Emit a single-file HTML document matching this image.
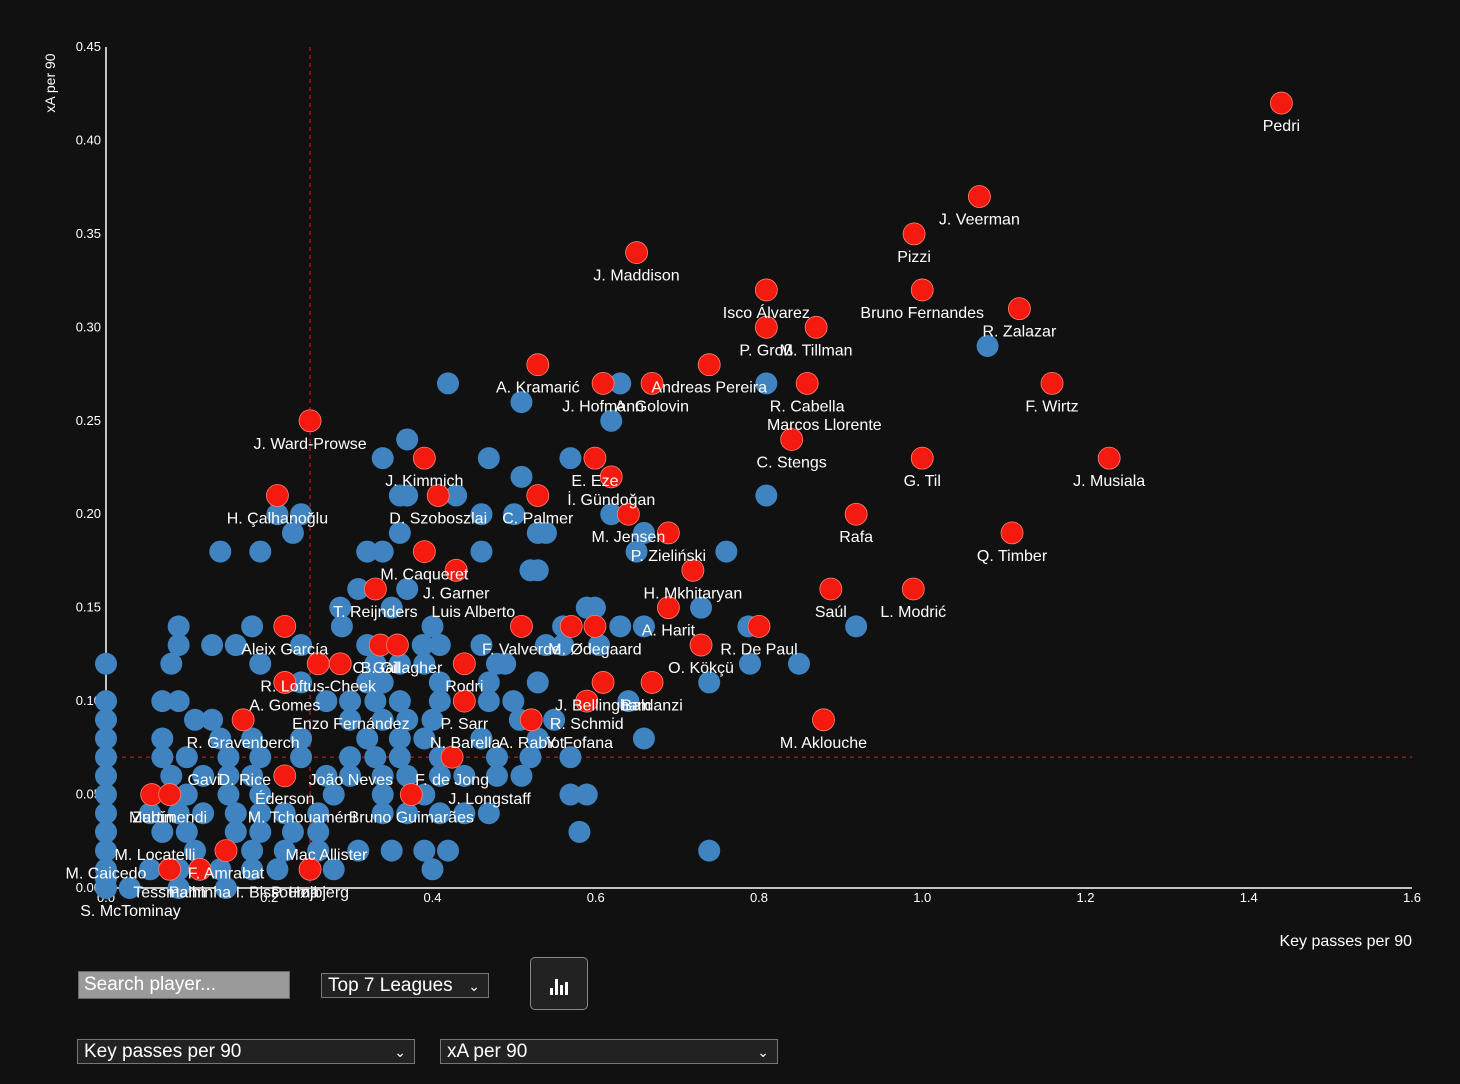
<!DOCTYPE html>
<html><head><meta charset="utf-8">
<style>
html,body{margin:0;padding:0;background:#111;width:1460px;height:1084px;overflow:hidden;font-family:"Liberation Sans",sans-serif;}
svg{position:absolute;left:0;top:0}
.ctl{position:absolute;box-sizing:border-box;color:#fff;font-size:19px;font-family:"Liberation Sans",sans-serif;}
.sel{background:#222;border:1px solid #777;padding:2px 6px;line-height:20px}
.sel .ch{position:absolute;right:8px;top:2px;font-size:14px}
</style></head><body>
<svg id="chart" width="1460" height="1084"></svg>
<div class="ctl" style="left:78px;top:971px;width:212px;height:28px;background:#9a9a9a;border:1px solid #666;padding:2px 5px;line-height:22px">Search player...</div>
<div class="ctl sel" style="left:321px;top:973px;width:168px;height:25px">Top 7 Leagues<span class="ch">&#8964;</span></div>
<div class="ctl" style="left:530px;top:957px;width:58px;height:53px;background:#222;border:1px solid #888;border-radius:5px">
<svg width="58" height="53" style="position:absolute;left:0;top:0"><rect x="19" y="30" width="3" height="7" fill="#fff"/><rect x="24" y="21" width="3" height="16" fill="#fff"/><rect x="29" y="27" width="3" height="10" fill="#fff"/><rect x="34" y="24" width="3" height="13" fill="#fff"/></svg></div>
<div class="ctl sel" style="left:77px;top:1039px;width:338px;height:25px">Key passes per 90<span class="ch">&#8964;</span></div>
<div class="ctl sel" style="left:440px;top:1039px;width:338px;height:25px">xA per 90<span class="ch">&#8964;</span></div>
<script>
const xTicks=[0,0.2,0.4,0.6,0.8,1.0,1.2,1.4,1.6];
const yTicks=[0,0.05,0.10,0.15,0.20,0.25,0.30,0.35,0.40,0.45];
const medianX=0.25, medianY=0.07;
const blueX=[0,0,0,0,0,0,0,0,0,0,0,0,0,
0.419,0.509,0.63,0.619,0.809,1.08,0.369,0.339,0.469,0.569,0.509,0.36,0.369,0.429,0.809,0.21,0.239,0.229,0.14,0.189,0.32,0.339,0.46,0.46,0.5,0.529,0.539,0.619,0.659,0.65,0.76,0.36,0.52,0.529,0.309,0.369,0.287,0.35,0.589,0.599,0.729,
0.089,0.179,0.289,0.4,0.63,0.659,0.56,0.787,0.919,
0.089,0.13,0.159,0.239,0.32,0.388,0.409,0.46,0.539,0.56,0.604,
0.08,0.189,0.33,0.36,0.39,0.479,0.489,0.789,0.849,
0.239,0.32,0.339,0.469,0.529,0.739,0.409,
0.069,0.089,0.27,0.299,0.33,0.36,0.409,0.469,0.64,0.499,
0.109,0.13,0.299,0.339,0.369,0.4,0.507,0.549,
0.069,0.14,0.179,0.239,0.32,0.36,0.39,0.46,0.529,0.659,
0.069,0.099,0.15,0.189,0.239,0.299,0.33,0.36,0.409,0.479,0.52,0.569,
0.08,0.119,0.15,0.179,0.27,0.299,0.339,0.369,0.409,0.439,0.479,0.509,
0.099,0.15,0.189,0.279,0.339,0.39,0.569,0.589,
0.054,0.089,0.119,0.159,0.189,0.219,0.26,0.339,0.369,0.409,0.439,0.469,
0.069,0.099,0.159,0.189,0.229,0.26,0.58,
0.109,0.179,0.219,0.26,0.309,0.35,0.39,0.419,0.739,
0.054,0.089,0.14,0.179,0.21,0.279,0.4,
0.029,0.089,0.147];
const blueY=[0.12,0.10,0.09,0.08,0.07,0.06,0.05,0.04,0.03,0.02,0.01,0.005,0,
0.27,0.26,0.27,0.25,0.27,0.29,0.24,0.23,0.23,0.23,0.22,0.21,0.21,0.21,0.21,0.20,0.20,0.19,0.18,0.18,0.18,0.18,0.18,0.20,0.20,0.19,0.19,0.20,0.19,0.18,0.18,0.19,0.17,0.17,0.16,0.16,0.15,0.15,0.15,0.15,0.15,
0.14,0.14,0.14,0.14,0.14,0.14,0.14,0.14,0.14,
0.13,0.13,0.13,0.13,0.13,0.13,0.13,0.13,0.13,0.13,0.13,
0.12,0.12,0.12,0.12,0.12,0.12,0.12,0.12,0.12,
0.11,0.11,0.11,0.11,0.11,0.11,0.11,
0.10,0.10,0.10,0.10,0.10,0.10,0.10,0.10,0.10,0.10,
0.09,0.09,0.09,0.09,0.09,0.09,0.09,0.09,
0.08,0.08,0.08,0.08,0.08,0.08,0.08,0.08,0.08,0.08,
0.07,0.07,0.07,0.07,0.07,0.07,0.07,0.07,0.07,0.07,0.07,0.07,
0.06,0.06,0.06,0.06,0.06,0.06,0.06,0.06,0.06,0.06,0.06,0.06,
0.05,0.05,0.05,0.05,0.05,0.05,0.05,0.05,
0.04,0.04,0.04,0.04,0.04,0.04,0.04,0.04,0.04,0.04,0.04,0.04,
0.03,0.03,0.03,0.03,0.03,0.03,0.03,
0.02,0.02,0.02,0.02,0.02,0.02,0.02,0.02,0.02,
0.01,0.01,0.01,0.01,0.01,0.01,0.01,
0,0,0];
const redX=[1.44,1.07,0.99,0.65,1.0,1.119,0.809,0.809,0.87,0.529,0.739,0.609,0.669,0.859,1.159,0.84,0.25,0.39,0.599,0.619,1.0,1.229,0.21,0.407,0.529,0.64,0.689,0.919,1.11,0.39,0.429,0.719,0.33,0.689,0.888,0.989,0.219,0.509,0.599,0.57,0.80,0.729,0.336,0.357,0.26,0.287,0.439,0.219,0.609,0.669,0.589,0.439,0.168,0.521,0.879,0.424,0.219,0.374,0.056,0.078,0.147,0.078,0.25,0.115];
const redY=[0.42,0.37,0.35,0.34,0.32,0.31,0.32,0.30,0.30,0.28,0.28,0.27,0.27,0.27,0.27,0.24,0.25,0.23,0.23,0.22,0.23,0.23,0.21,0.21,0.21,0.20,0.19,0.20,0.19,0.18,0.17,0.17,0.16,0.15,0.16,0.16,0.14,0.14,0.14,0.14,0.14,0.13,0.13,0.13,0.12,0.12,0.12,0.11,0.11,0.11,0.10,0.10,0.09,0.09,0.09,0.07,0.06,0.05,0.05,0.05,0.02,0.01,0.01,0.01];
const redNames=["Pedri","J. Veerman","Pizzi","J. Maddison","Bruno Fernandes","R. Zalazar","Isco Álvarez","P. Groß","M. Tillman","A. Kramarić","Andreas Pereira","J. Hofmann","A. Golovin","R. Cabella","F. Wirtz","C. Stengs","J. Ward-Prowse","J. Kimmich","E. Eze","İ. Gündoğan","G. Til","J. Musiala","H. Çalhanoğlu","D. Szoboszlai","C. Palmer","M. Jensen","P. Zieliński","Rafa","Q. Timber","M. Caqueret","J. Garner","H. Mkhitaryan","T. Reijnders","A. Harit","Saúl","L. Modrić","Aleix García","F. Valverde","M. Ødegaard","","R. De Paul","O. Kökçü","B. Gil","C. Gallagher","R. Loftus-Cheek","","Rodri","A. Gomes","J. Bellingham","Baldanzi","R. Schmid","P. Sarr","R. Gravenberch","A. Rabiot","M. Aklouche","F. de Jong","Éderson","Bruno Guimarães","Martín","Zubimendi","F. Amrabat","Tessmann","P. Højbjerg","Palhinha"];
const extraNames=["Marcos Llorente","Luis Alberto","Enzo Fernández","N. Barella","Y. Fofana","D. Rice","João Neves","J. Longstaff","M. Tchouaméni","M. Locatelli","Mac Allister","M. Caicedo","I. Bissouma","S. McTominay","Gavi"];
const extraX=[0.88,0.45,0.30,0.44,0.58,0.17,0.30,0.47,0.24,0.06,0.27,0.0,0.21,0.03,0.12];
const extraY=[0.26,0.16,0.10,0.09,0.09,0.07,0.07,0.06,0.05,0.03,0.03,0.02,0.01,0.0,0.07];

const NS='http://www.w3.org/2000/svg';
const svg=document.getElementById('chart');
const X0=106,X1=1412,Y0=888,Y1=47;
function sx(v){return X0+v/1.6*(X1-X0);}
function sy(v){return Y0-v/0.45*(Y0-Y1);}
function mk(t,a,p){const e=document.createElementNS(NS,t);for(const k in a)e.setAttribute(k,a[k]);(p||svg).appendChild(e);return e;}
const gAx=mk('g',{});


const ya=mk('line',{x1:X0,y1:Y1,x2:X0,y2:Y0,stroke:'#fff','stroke-width':1.5},gAx);


const xa=mk('line',{x1:X0,y1:Y0,x2:X1,y2:Y0,stroke:'#fff','stroke-width':1.5},gAx);


xTicks.forEach(v=>{const t=mk('text',{x:sx(v),y:Y0+14,fill:'#fff','font-size':13,'text-anchor':'middle'},gAx);t.textContent=v.toFixed(1);

});
yTicks.forEach(v=>{const t=mk('text',{x:X0-5,y:sy(v)+4,fill:'#fff','font-size':13,'text-anchor':'end'},gAx);t.textContent=v.toFixed(2);

});
const yt=mk('text',{x:0,y:0,fill:'#fff','font-size':14,'text-anchor':'middle',transform:'translate(55,83) rotate(-90)'},gAx);yt.textContent='xA per 90';


const xt=mk('text',{x:X1,y:946,fill:'#fff','font-size':16,'text-anchor':'end'},gAx);xt.textContent='Key passes per 90';


const mv=mk('line',{x1:sx(medianX),y1:Y1,x2:sx(medianX),y2:Y0,stroke:'#e02020','stroke-dasharray':'4,4','stroke-width':1});


const mh=mk('line',{x1:X0,y1:sy(medianY),x2:X1,y2:sy(medianY),stroke:'#e02020','stroke-dasharray':'4,4','stroke-width':1});


blueX.forEach((v,i)=>{const c=mk('circle',{cx:sx(v),cy:sy(blueY[i]),r:11,fill:'#3f83c0'});

});
redX.forEach((v,i)=>{const c=mk('circle',{cx:sx(v),cy:sy(redY[i]),r:11,fill:'#f41a10',stroke:'#ff8070','stroke-width':0.8});

});
function lab(n,x,y){if(!n)return;const t=mk('text',{x:sx(x),y:sy(y)+28,fill:'#fff','font-size':16,'text-anchor':'middle'});t.textContent=n;

}
redNames.forEach((n,i)=>lab(n,redX[i],redY[i]));
extraNames.forEach((n,i)=>lab(n,extraX[i],extraY[i]));
</script>
</body></html>
